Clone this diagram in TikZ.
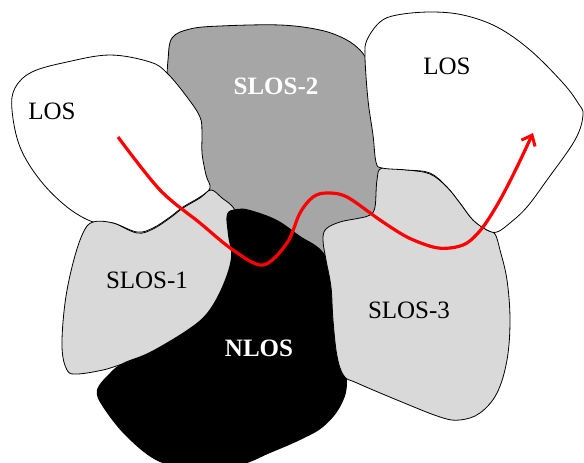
\documentclass[tikz,border=0pt]{standalone}
\usepackage{fontspec}
\setmainfont{Liberation Serif}
\usetikzlibrary{arrows.meta}
\definecolor{midgray}{HTML}{A6A6A6}
\definecolor{lightgray2}{HTML}{D9D9D9}
\begin{document}
\begin{tikzpicture}[x=1pt,y=-1pt,
  region/.style={draw=black,line width=0.8pt,line join=round},
  lbl/.style={font=\fontsize{25}{28}\selectfont,inner sep=0pt},
  blbl/.style={lbl,font=\fontsize{25}{28}\selectfont\bfseries,text=white},
  route/.style={draw=red,line width=3.2pt,-{Straight Barb[length=9pt,width=15pt,line width=3pt]}}]
\useasboundingbox (0,0) rectangle (584,463);
% SLOS-2
\fill[midgray] plot[smooth cycle,tension=0.6] coordinates{
 (168,60) (172,38) (190,29) (220,26) (280,25) (320,30) (345,39) (360,50) (372,70)
 (375,110) (380,150) (390,180) (385,215) (372,245) (340,270) (290,250) (240,225)
 (212,198) (195,160) (182,115) (170,85)};
\draw[region] plot[smooth,tension=0.6] coordinates{
 (167,80) (168,60) (172,38) (190,29) (220,26) (280,25) (320,30) (345,39) (360,50) (367,60)};
% LOS left
\filldraw[region,fill=white] plot[smooth cycle,tension=0.6] coordinates{
 (110,55) (150,62) (167,73) (187,97) (200,117) (202,133) (202,153) (206,175) (210,188)
 (200,197) (183,207) (170,217) (153,228) (137,232) (113,223) (93,222) (67,207)
 (40,180) (20,147) (12,110) (15,88) (32,72) (67,62)};
% SLOS-1
\filldraw[region,fill=lightgray2] plot[smooth cycle,tension=0.6] coordinates{
 (93,222) (113,223) (137,233) (153,229) (170,218) (183,208) (200,198) (211,190)
 (222,198) (235,210) (248,240) (240,295) (200,335) (150,358) (123,364) (103,370)
 (77,374) (67,370) (62,347) (65,303) (73,263) (83,233)};
% NLOS
\fill[black] plot[smooth cycle,tension=0.6] coordinates{
 (227,214) (237,209) (250,210) (277,220) (300,236) (322,251) (338,280) (342,340)
 (347,383) (340,407) (323,427) (300,440) (270,453) (240,465) (200,468) (160,462)
 (127,437) (103,407) (97,390) (110,373) (123,363) (150,352) (187,330) (207,313)
 (222,287) (231,258) (228,235)};
% SLOS-3
\filldraw[region,fill=lightgray2] plot[smooth cycle,tension=0.6] coordinates{
 (382,168) (407,170) (430,174) (447,187) (460,203) (473,220) (487,230) (495,234)
 (500,250) (507,280) (510,320) (507,360) (497,393) (480,413) (460,420) (440,417)
 (397,400) (357,383) (344,376) (337,356) (333,320) (331,287) (326,260) (323,240)
 (326,229) (340,222) (360,218) (370,215) (375,207) (377,180)};
% LOS right
\filldraw[region,fill=white] plot[smooth cycle,tension=0.6] coordinates{
 (365,57) (367,40) (380,22) (397,15) (430,12) (463,15) (497,27) (530,50) (563,83)
 (578,103) (583,115) (575,140) (547,180) (527,207) (510,223) (497,232) (487,230)
 (473,220) (460,203) (447,187) (430,173) (407,170) (382,168) (376,162) (373,135)
 (368,100)};
% route
\draw[route] plot[smooth,tension=0.55] coordinates{
 (118,137) (160,190) (200,223) (233,250) (263,265) (287,243) (300,213) (313,197)
 (327,193) (347,197) (380,220) (407,237) (433,247) (450,248) (467,243) (483,227)
 (500,200) (517,167) (533,133)};
% labels
\node[lbl] (losL) at (52,111) {LOS};
\node[lbl] (losR) at (447,66) {LOS};
\node[blbl] (slos2) at (276,86) {SLOS-2};
\node[lbl] (slos1) at (147,280) {SLOS-1};
\node[lbl] (slos3) at (409,310) {SLOS-3};
\node[blbl] (nlos) at (259,348) {NLOS};
\end{tikzpicture}
\end{document}
